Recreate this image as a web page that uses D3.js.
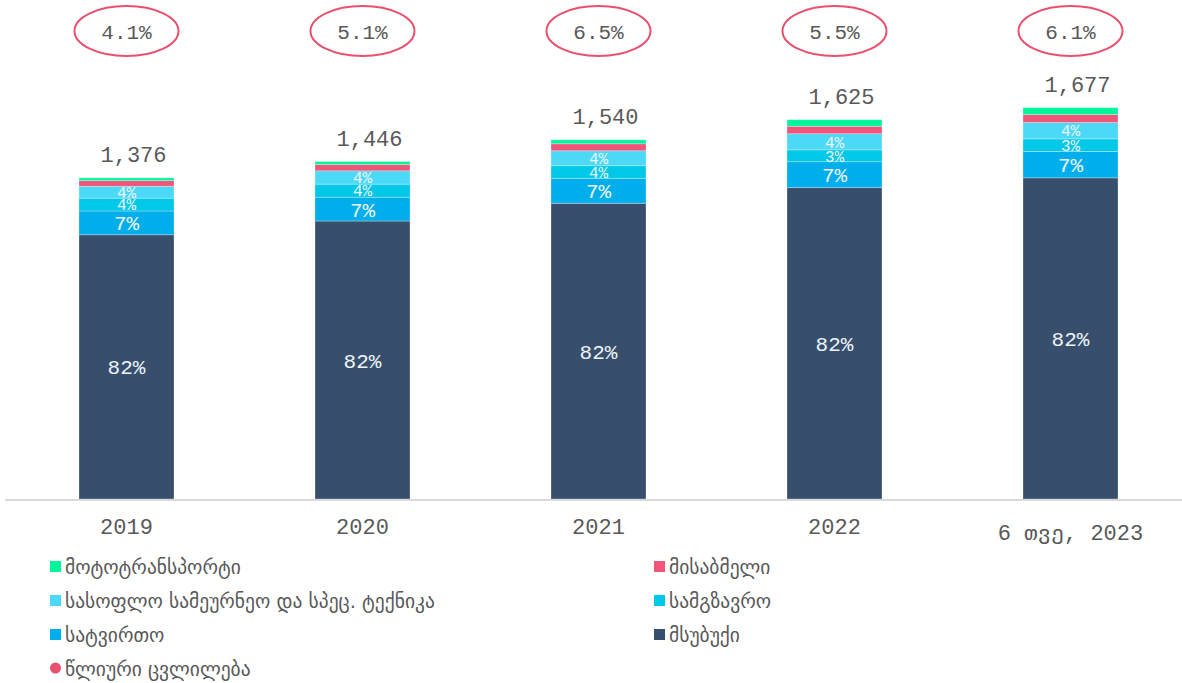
<html>
<head>
    <script src="https://d3js.org/d3.v7.min.js"></script>
    <style>
        body { margin: 0; background: #ffffff; }
    </style>
</head>
<body>
    <svg id="chartArea" width="1182" height="683"></svg>
    <script>
        // categories and series (vehicle counts, thousands)
        const years = ["2019", "2020", "2021", "2022", "6 თვე, 2023"];
        const msubuqi = [1132, 1191, 1267, 1334, 1376];
        const satvirto = [102, 102, 107, 111, 113];
        const samgzavro = [55, 56, 54, 51, 54];
        const sasoflo = [51, 57, 64, 69, 70];
        const misabmeli = [24, 27, 30, 32, 34];
        const moto = [12, 13, 17, 28, 30];
        const totals = [1376, 1446, 1540, 1625, 1677];
        const growth = [4.1, 5.1, 6.5, 5.5, 6.1];

        const seriesKeys = ["msubuqi", "satvirto", "samgzavro", "sasoflo", "misabmeli", "moto"];
        const seriesNames = {
            moto: "მოტოტრანსპორტი",
            misabmeli: "მისაბმელი",
            sasoflo: "სასოფლო სამეურნეო და სპეც. ტექნიკა",
            samgzavro: "სამგზავრო",
            satvirto: "სატვირთო",
            msubuqi: "მსუბუქი"
        };
        const colors = {
            msubuqi: "#374f6d",
            satvirto: "#00aeeb",
            samgzavro: "#00c8e6",
            sasoflo: "#4cd9f8",
            misabmeli: "#f05679",
            moto: "#00f69b"
        };
        const growthColor = "#e8506e";
        const textGrey = "#595959";
        const mono = "'Liberation Mono', 'DejaVu Sans Mono', monospace";

        const table = years.map((y, i) => ({
            year: y, msubuqi: msubuqi[i], satvirto: satvirto[i], samgzavro: samgzavro[i],
            sasoflo: sasoflo[i], misabmeli: misabmeli[i], moto: moto[i], total: totals[i], growth: growth[i]
        }));

        const svg = d3.select("#chartArea");

        const x = d3.scaleBand()
            .domain(years)
            .range([31.8, 1165.2])
            .paddingInner(0.5975)
            .paddingOuter(0.2);

        const y = d3.scaleLinear()
            .domain([0, 2138])
            .range([499, 0]);

        const stacked = d3.stack().keys(seriesKeys)(table);

        // bars
        const layers = svg.append("g").selectAll("g.layer").data(stacked)
            .join("g")
            .attr("class", "layer")
            .attr("fill", d => colors[d.key]);

        layers.selectAll("rect").data(d => d)
            .join("rect")
            .attr("x", d => x(d.data.year))
            .attr("width", x.bandwidth())
            .attr("y", d => y(d[1]))
            .attr("height", d => y(d[0]) - y(d[1]))
            .attr("stroke", "#ffffff")
            .attr("stroke-opacity", 0.35)
            .attr("stroke-width", 0.8);

        // percentage labels inside segments
        const pct = d3.format(".0%");
        const labelled = ["msubuqi", "satvirto", "samgzavro", "sasoflo"];
        stacked.filter(s => labelled.includes(s.key)).forEach(s => {
            svg.append("g").selectAll("text").data(s)
                .join("text")
                .attr("x", d => x(d.data.year) + x.bandwidth() / 2)
                .attr("y", d => (y(d[0]) + y(d[1])) / 2)
                .attr("dy", "0.36em")
                .attr("text-anchor", "middle")
                .attr("font-family", mono)
                .attr("font-size", (s.key === "msubuqi" || s.key === "satvirto") ? 21 : 16)
                .attr("fill", "#eef4f8")
                .text(d => pct((d[1] - d[0]) / d.data.total));
        });

        // totals above bars
        svg.append("g").selectAll("text").data(table)
            .join("text")
            .attr("x", d => x(d.year) + x.bandwidth() / 2 + 7)
            .attr("y", d => y(d.total) - 16)
            .attr("text-anchor", "middle")
            .attr("font-family", mono)
            .attr("font-size", 22)
            .attr("fill", textGrey)
            .text(d => d3.format(",")(d.total));

        // growth ellipses
        const g2 = svg.append("g").selectAll("g").data(table)
            .join("g")
            .attr("transform", d => `translate(${x(d.year) + x.bandwidth() / 2},31)`);
        g2.append("ellipse")
            .attr("rx", 52)
            .attr("ry", 25)
            .attr("fill", "none")
            .attr("stroke", growthColor)
            .attr("stroke-width", 2);
        g2.append("text")
            .attr("text-anchor", "middle")
            .attr("dy", "0.36em")
            .attr("font-family", mono)
            .attr("font-size", 21)
            .attr("fill", textGrey)
            .text(d => d.growth.toFixed(1) + "%");

        // x axis
        const xAxis = svg.append("g")
            .attr("transform", "translate(0,500)")
            .call(d3.axisBottom(x).tickSize(0).tickPadding(18));
        xAxis.select(".domain").remove();
        xAxis.append("line")
            .attr("x1", 5).attr("x2", 1182)
            .attr("stroke", "#d9d9d9").attr("stroke-width", 2);
        xAxis.selectAll(".tick text")
            .attr("font-family", mono)
            .attr("font-size", 22)
            .attr("fill", textGrey)
            .attr("dy", (d, i) => i === years.length - 1 ? "1.0em" : "0.72em");

        // legend
        const legendItems = [
            { key: "moto", col: 0, row: 0 },
            { key: "misabmeli", col: 1, row: 0 },
            { key: "sasoflo", col: 0, row: 1 },
            { key: "samgzavro", col: 1, row: 1 },
            { key: "satvirto", col: 0, row: 2 },
            { key: "msubuqi", col: 1, row: 2 }
        ];
        const legend = svg.append("g");
        const colX = [50, 654];
        const rowY = d => 567 + d * 34;

        const li = legend.selectAll("g.item").data(legendItems)
            .join("g")
            .attr("class", "item")
            .attr("transform", d => `translate(${colX[d.col]},${rowY(d.row)})`);
        li.append("rect")
            .attr("x", 0).attr("y", -6)
            .attr("width", 11).attr("height", 11)
            .attr("fill", d => colors[d.key]);
        li.append("text")
            .attr("x", 15)
            .attr("dy", "0.38em")
            .attr("font-family", "'DejaVu Sans', sans-serif")
            .attr("font-size", 19.5)
            .attr("fill", textGrey)
            .text(d => seriesNames[d.key]);

        const lg = legend.append("g").attr("transform", `translate(${colX[0]},${rowY(3)})`);
        lg.append("circle").attr("cx", 5.5).attr("cy", -1).attr("r", 5.5).attr("fill", growthColor);
        lg.append("text")
            .attr("x", 15)
            .attr("dy", "0.38em")
            .attr("font-family", "'DejaVu Sans', sans-serif")
            .attr("font-size", 19.5)
            .attr("fill", textGrey)
            .text("წლიური ცვლილება");
    </script>
</body>
</html>
